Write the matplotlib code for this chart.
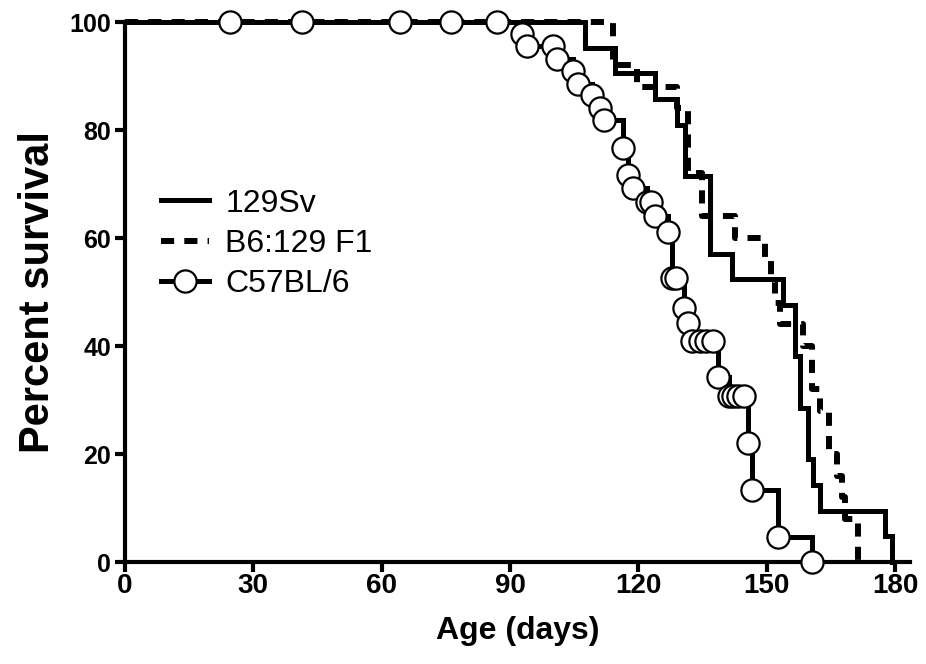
import matplotlib
matplotlib.use("Agg")
import matplotlib.pyplot as plt
from matplotlib.lines import Line2D

plt.rcParams['font.family'] = ['Liberation Sans', 'DejaVu Sans']

# 129Sv survival steps (day, percent)
sv_days = [0, 107.5, 114.5, 124.0, 129.0, 131.0, 136.7, 142.0, 153.8, 156.7, 157.8, 159.7, 160.9, 162.5, 177.6, 179.3]
sv_pct = [100, 95.2, 90.5, 85.7, 81.0, 71.4, 57.1, 52.4, 47.6, 38.1, 28.6, 19.0, 14.3, 9.5, 4.8, 0]

# B6:129 F1 survival steps
f1_days = [0, 114.0, 119.7, 129.0, 131.6, 134.9, 142.6, 149.6, 151.0, 152.0, 153.0, 158.5, 160.6, 162.5, 164.6, 166.4, 167.6, 168.2, 171.4]
f1_pct = [100, 92, 88, 84, 72, 64, 60, 56, 52, 48, 44, 40, 32, 28, 20, 16, 12, 8, 0]

# C57BL/6 survival points (symbols at each point)
c57_days = [0, 24.5, 41.4, 64.3, 76.2, 87.0, 92.8, 94.0, 100.0, 101.0, 104.7, 105.9, 109.2, 111.0, 112.0,
            116.4, 117.6, 118.7, 122.0, 123.0, 123.9, 126.9, 127.9, 128.8, 130.7, 131.6, 132.5, 134.4,
            135.8, 137.4, 138.6, 141.2, 142.1, 143.3, 144.7, 145.6, 146.6, 152.6, 160.6]
c57_pct = [100, 100, 100, 100, 100, 100, 97.7, 95.5, 95.5, 93.2, 90.9, 88.6, 86.4, 84.1, 81.8,
           76.7, 71.7, 69.3, 66.7, 66.7, 64.1, 61.1, 52.6, 52.6, 47.0, 44.3, 40.9, 40.9,
           40.9, 40.9, 34.3, 30.7, 30.7, 30.7, 30.7, 22.0, 13.3, 4.6, 0]

x_ticks = [0, 30, 60, 90, 120, 150, 180]
y_ticks = [0, 20, 40, 60, 80, 100]

fig = plt.figure(figsize=(9.26, 6.64), dpi=100)
ax = fig.add_axes([125/926, 102/664, 785/926, 540/664])

lw = 3.6
dash = (0, (2.2, 1.7))
ax.step(sv_days, sv_pct, where='post', color='black', lw=lw, clip_on=False,
        solid_joinstyle='miter', zorder=3)
ax.step(f1_days, f1_pct, where='post', color='black', lw=4.3, clip_on=False,
        linestyle=dash, zorder=3)
ax.step(c57_days, c57_pct, where='post', color='black', lw=lw, clip_on=False,
        solid_joinstyle='miter', zorder=4)
ax.plot(c57_days[1:], c57_pct[1:], linestyle='none', marker='o', ms=16,
        mfc='white', mec='black', mew=1.6, clip_on=False, zorder=5)

ax.set_xlim(0, 183.5)
ax.set_ylim(0, 100)
ax.set_xticks(x_ticks)
ax.set_yticks(y_ticks)
for s in ['top', 'right']:
    ax.spines[s].set_visible(False)
for s in ['left', 'bottom']:
    ax.spines[s].set_linewidth(3)
ax.tick_params(direction='out', length=7, width=3, pad=3)
ax.tick_params(axis='x', labelsize=20, pad=1)
ax.tick_params(axis='y', labelsize=18)
for lab in ax.get_xticklabels() + ax.get_yticklabels():
    lab.set_fontweight('bold')

ax.set_xlabel('Age (days)', fontsize=23, fontweight='bold', labelpad=12)
ax.set_ylabel('Percent survival', fontsize=30, fontweight='bold', labelpad=8)

handles = [
    Line2D([], [], color='black', lw=lw),
    Line2D([], [], color='black', lw=4.3, linestyle=dash),
    Line2D([], [], color='black', lw=lw, marker='o', ms=16, mfc='white', mec='black', mew=1.6),
]
labels = ['129Sv', 'B6:129 F1', 'C57BL/6']
ax.legend(handles, labels, loc='upper left', bbox_to_anchor=(0.03, 0.715), frameon=False,
          fontsize=23, handlelength=1.5, handletextpad=0.5, labelspacing=0.32, borderaxespad=0)

fig.savefig('out.png', dpi=100)
